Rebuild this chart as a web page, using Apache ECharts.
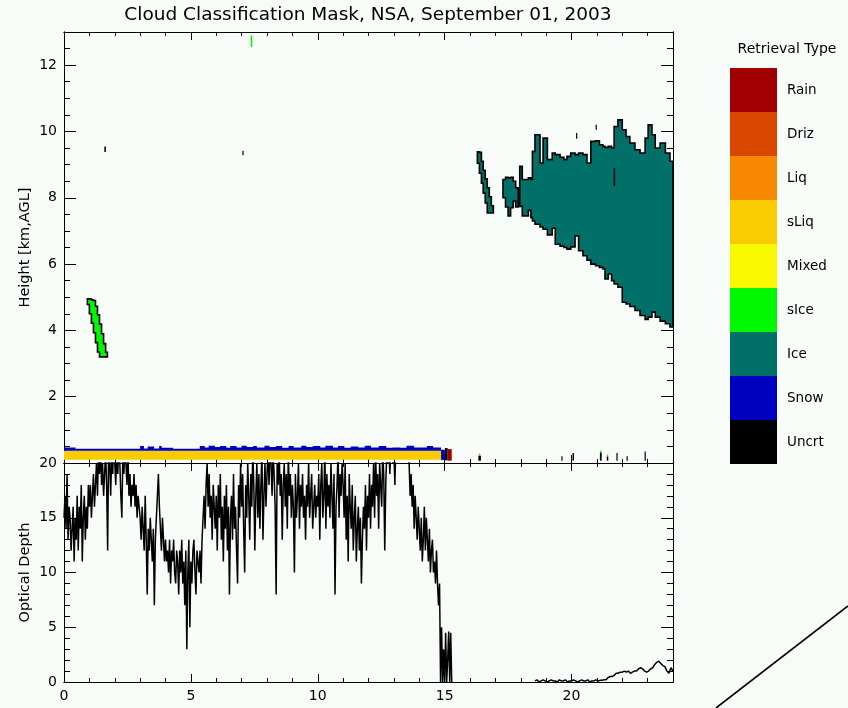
<!DOCTYPE html>
<html>
<head>
<meta charset="utf-8">
<script src="https://cdn.jsdelivr.net/npm/echarts@6/dist/echarts.min.js"></script>
<style>
  html, body { margin: 0; padding: 0; background: #f8fcf8; }
  #chart { width: 848px; height: 708px; }
</style>
</head>
<body>
<div id="chart"></div>
<script>
// ---- Retrieval classes (legend order is bottom → top) ----
const classNames = ['Uncrt', 'Snow', 'Ice', 'sIce', 'Mixed', 'sLiq', 'Liq', 'Driz', 'Rain'];

// ---- Cloud bodies: column start times [h] (last value closes the final column), top / base heights [km] ----
const sLiqHours = [0.00, 14.86];
const sLiqTop = [0.37];
const sLiqBase = [0.10];

const snowHours = [0, 0.45, 3.0, 3.15, 3.3, 3.55, 3.75, 3.85, 4.3, 5.35, 5.55, 5.7, 5.95, 6.15, 6.4, 6.55,
  6.8, 7.0, 7.2, 7.45, 7.6, 7.9, 8.1, 8.35, 8.6, 8.85, 9.05, 9.35, 9.55, 9.8, 10.1, 10.3, 10.6, 10.8,
  11.05, 11.3, 11.6, 11.85, 12.1, 12.4, 12.7, 12.95, 13.25, 13.5, 13.8, 14.05, 14.3, 14.55, 14.86];
const snowTop = [0.47, 0.43, 0.51, 0.44, 0.50, 0.44, 0.51, 0.46, 0.43, 0.51, 0.47, 0.52, 0.48, 0.51, 0.46, 0.51,
  0.47, 0.52, 0.48, 0.51, 0.47, 0.52, 0.48, 0.51, 0.46, 0.51, 0.47, 0.52, 0.48, 0.51, 0.47, 0.52, 0.47, 0.51,
  0.46, 0.50, 0.47, 0.52, 0.47, 0.51, 0.46, 0.47, 0.46, 0.52, 0.47, 0.47, 0.51, 0.47];
const snowBase = [0.37];

const sIceHours = [0.92, 1.00, 1.08, 1.16, 1.24, 1.32, 1.40, 1.48, 1.56, 1.64, 1.71];
const sIceTop = [4.95, 4.95, 4.92, 4.90, 4.73, 4.47, 4.19, 3.90, 3.60, 3.34];
const sIceBase = [4.78, 4.50, 4.22, 3.93, 3.63, 3.35, 3.20, 3.20, 3.20, 3.20];

const iceWispHours = [16.29, 16.37, 16.45, 16.52, 16.60, 16.68, 16.76, 16.84, 16.92];
const iceWispTop = [9.39, 9.37, 9.10, 8.83, 8.57, 8.30, 8.03, 7.76];
const iceWispBase = [9.04, 8.74, 8.44, 8.14, 7.84, 7.54, 7.54, 7.54];

const iceTuftHours = [17.30, 17.40, 17.50, 17.60, 17.70, 17.80, 17.90];
const iceTuftTop = [8.55, 8.62, 8.60, 8.62, 8.50, 8.30];
const iceTuftBase = [8.00, 7.72, 7.45, 7.70, 7.90, 7.72];

const iceMainHours = [17.96, 18.06, 18.30, 18.40, 18.46, 18.56, 18.76, 18.88, 19.05, 19.24, 19.36, 19.55,
  19.70, 19.82, 19.97, 20.14, 20.28, 20.45, 20.61, 20.76, 20.95, 21.10, 21.24, 21.32, 21.45, 21.58, 21.68,
  21.83, 22.00, 22.15, 22.30, 22.50, 22.70, 22.90, 23.02, 23.17, 23.30, 23.49, 23.70, 23.88, 24.00];
const iceMainTop = [8.95, 8.55, 8.60, 8.55, 9.40, 9.90, 9.05, 9.80, 9.15, 9.35, 9.30, 9.22, 9.15, 9.25,
  9.35, 9.30, 9.35, 9.30, 9.05, 9.70, 9.72, 9.60, 9.55, 9.52, 9.55, 9.50, 10.15, 10.35, 10.05, 9.85, 9.65,
  9.45, 9.35, 9.80, 10.20, 9.90, 9.50, 9.65, 9.35, 9.10];
const iceMainBase = [7.74, 7.45, 7.62, 7.40, 7.30, 7.20, 7.12, 7.05, 6.88, 7.08, 6.60, 6.54, 6.50, 6.45,
  6.52, 6.85, 6.40, 6.25, 6.12, 6.00, 5.95, 5.90, 5.85, 5.55, 5.70, 5.50, 5.40, 5.30, 4.85, 4.80, 4.72,
  4.60, 4.45, 4.33, 4.40, 4.55, 4.40, 4.28, 4.20, 4.10];

// ---- Isolated cells: start / end [h], base / top [km], class index ----
const cellStart = [1.59, 7.03, 7.36, 20.18, 20.95, 21.66, 14.86, 15.01, 15.12, 16.33, 16.34, 19.60, 20.04, 21.12, 21.13, 21.39, 21.40, 21.77, 22.17, 22.88];
const cellEnd   = [1.65, 7.07, 7.42, 20.22, 20.99, 21.72, 15.01, 15.12, 15.28, 16.43, 16.40, 19.64, 20.10, 21.19, 21.17, 21.45, 21.44, 21.80, 22.20, 22.92];
const cellBase  = [9.38, 9.28, 12.55, 9.78, 10.05, 8.35, 0.09, 0.08, 0.07, 0.07, 0.22, 0.07, 0.07, 0.07, 0.32, 0.07, 0.20, 0.07, 0.07, 0.07];
const cellTop   = [9.55, 9.42, 12.90, 9.95, 10.20, 8.90, 0.40, 0.45, 0.42, 0.22, 0.28, 0.20, 0.30, 0.32, 0.38, 0.20, 0.26, 0.30, 0.20, 0.35];
const cellClass = [0, 0, 3, 0, 0, 0, 1, 0, 8, 0, 6, 0, 0, 0, 3, 0, 6, 0, 0, 0];

// ---- Optical depth: segment A from 0.00 h every 0.04 h, segment B from 18.56 h every 0.08 h ----
const odStartA = 0.00, odStepA = 0.04;
const odSegA = [
  15, 17, 14, 19, 13, 16, 15, 12, 14, 16, 11, 15, 13, 17, 12, 16, 14, 18, 11, 15, 17, 13, 16, 14, 18,
  16, 18, 15, 17, 19, 16, 18, 20, 17, 21, 19, 22, 18, 20, 17, 19, 21, 18, 12, 22, 20, 17, 21, 19, 22,
  20, 18, 21, 19, 22, 20, 17, 15, 21, 19, 22, 20, 18, 21, 17, 19, 16, 18, 17, 19, 16, 18, 15, 17, 16,
  15, 13, 16, 14, 12, 17, 13, 8, 14, 12, 15, 13, 11, 14, 7, 13, 15, 17, 19, 16, 14, 12, 15, 13, 11,
  13, 11, 12, 10, 13, 9, 12, 11, 13, 10, 9, 12, 11, 8, 12, 10, 13, 9, 11, 7, 12, 3, 10, 13, 5,
  11, 9, 12, 13, 10, 8, 12, 11, 10, 12, 9, 13, 15, 17, 14, 18, 20, 16, 19, 15, 17, 13, 18, 16, 14,
  17, 12, 18, 15, 19, 13, 16, 11, 17, 14, 18, 12, 16, 8, 15, 17, 13, 19, 14, 16, 12, 9, 18, 15, 20,
  16, 19, 14, 10, 18, 15, 20, 17, 13, 19, 16, 21, 18, 12, 17, 20, 15, 19, 14, 18, 21, 13, 17, 20, 16,
  19, 21, 18, 22, 20, 17, 21, 19, 16, 8, 20, 18, 21, 17, 19, 13, 18, 20, 16, 19, 14, 21, 17, 19, 15,
  18, 16, 10, 19, 15, 17, 20, 14, 18, 16, 19, 15, 17, 13, 18, 16, 20, 15, 17, 19, 14, 16, 18, 15, 17,
  16, 19, 13, 18, 20, 15, 17, 21, 14, 19, 16, 18, 15, 20, 17, 14, 19, 8, 16, 18, 21, 15, 19, 17, 20,
  18, 15, 20, 13, 17, 11, 19, 16, 14, 18, 12, 15, 17, 11, 14, 16, 12, 15, 9, 13, 16, 14, 18, 12, 17,
  15, 19, 14, 18, 16, 20, 15, 21, 17, 19, 14, 20, 18, 16, 21, 19, 12, 18, 21, 20, 22, 19, 21, 22, 20,
  21, 18, 22, 21, 23, 22, 24, 22, 23, 21, 22, 23, 22, 21, 22, 20, 17, 19, 16, 18, 14, 17, 15, 13, 16,
  14, 12, 15, 11, 13, 16, 12, 15, 13, 11, 14, 10, 12, 13, 10, 11, 9, 12, 9, 7, 9, 0, 5, 0, 3,
  0, 4.5, 0, 2, 4.6, 0, 4.5, 0
];
const odStartB = 18.56, odStepB = 0.08;
const odSegB = [
  0.1, 0.2, 0.0, 0.1, 0.2, 0.1, 0.0, 0.1, 0.2, 0.1, 0.1, 0.0, 0.2, 0.1, 0.1, 0.2,
  0.0, 0.1, 0.1, 0.2, 0.1, 0.0, 0.1, 0.2, 0.1, 0.1, 0.2, 0.0, 0.1, 0.1, 0.2, 0.1,
  0.15, 0.15, 0.2, 0.2, 0.4, 0.5, 0.5, 0.6, 0.8, 0.8, 0.9, 0.9, 1.0, 0.9, 1.0, 0.8, 0.9, 1.0, 1.0,
  1.2, 1.3, 1.2, 1.0, 0.9, 1.0, 1.2, 1.3, 1.6, 1.8, 1.9, 1.7, 1.5, 1.4, 1.0, 0.8, 1.3, 1.0
];

// ---- Styling ----
const FONT = 'DejaVu Sans';
const INK = '#000000';
const classColors = ['#000000', '#0000c0', '#007068', '#00f800', '#f8f800', '#f8cc00', '#f88800', '#d84800', '#a00000'];
const OUTLINED = { 2: true, 3: true };

const bodies = [
  { cls: 5, hours: sLiqHours, top: sLiqTop, base: sLiqBase },
  { cls: 1, hours: snowHours, top: snowTop, base: snowBase },
  { cls: 3, hours: sIceHours, top: sIceTop, base: sIceBase },
  { cls: 2, hours: iceWispHours, top: iceWispTop, base: iceWispBase },
  { cls: 2, hours: iceTuftHours, top: iceTuftTop, base: iceTuftBase },
  { cls: 2, hours: iceMainHours, top: iceMainTop, base: iceMainBase }
];

function outlinePoints(api, b) {
  const pts = [];
  const n = b.top.length;
  const baseAt = i => (b.base.length === 1 ? b.base[0] : b.base[i]);
  for (let i = 0; i < n; i++) {
    pts.push(api.coord([b.hours[i], b.top[i]]));
    pts.push(api.coord([b.hours[i + 1], b.top[i]]));
  }
  for (let i = n - 1; i >= 0; i--) {
    pts.push(api.coord([b.hours[i + 1], baseAt(i)]));
    pts.push(api.coord([b.hours[i], baseAt(i)]));
  }
  return pts;
}

const bodyData = bodies.map((b, i) => [b.cls, i]);
const cellData = cellClass.map((c, i) => [c, cellStart[i], cellEnd[i], cellBase[i], cellTop[i]]);

const odData = [];
odSegA.forEach((v, i) => odData.push([+(odStartA + i * odStepA).toFixed(2), v]));
odData.push([16.9, '-']);
odSegB.forEach((v, i) => odData.push([+(odStartB + i * odStepB).toFixed(2), v]));

// ---- Axes: IDL-style box with inward ticks on all four sides ----
function axis(gridIndex, position, min, max, interval, tickLen, extra) {
  return Object.assign({
    type: 'value', gridIndex, position, min, max, interval,
    axisLine: { show: true, onZero: false, lineStyle: { color: INK, width: 1 } },
    axisTick: { show: true, inside: true, length: tickLen, lineStyle: { color: INK, width: 1 } },
    axisLabel: { show: false },
    splitLine: { show: false },
    silent: true
  }, extra || {});
}
const tickLabel = (fmt) => ({
  show: true, color: INK, fontFamily: FONT, fontSize: 14, margin: 7, formatter: fmt
});
const axisName = (text, gap) => ({
  name: text, nameLocation: 'middle', nameGap: gap, nameRotate: 90,
  nameTextStyle: { color: INK, fontFamily: FONT, fontSize: 14.5 }
});

const xAxes = [
  axis(0, 'bottom', 0, 24, 1, 4),
  axis(0, 'bottom', 0, 24, 5, 8),
  axis(0, 'top', 0, 24, 1, 4),
  axis(0, 'top', 0, 24, 5, 8),
  axis(1, 'bottom', 0, 24, 1, 4, { axisLabel: tickLabel(v => (v % 5 === 0 ? String(v) : '')) }),
  axis(1, 'bottom', 0, 24, 5, 8),
  axis(1, 'top', 0, 24, 1, 4),
  axis(1, 'top', 0, 24, 5, 8)
];
const yAxes = [
  axis(0, 'left', 0, 13, 0.5, 6, { axisLabel: tickLabel(v => (v % 2 === 0 && v > 0 ? String(v) : '')) }),
  axis(0, 'left', 0, 13, 2, 12, axisName('Height [km,AGL]', 31)),
  axis(0, 'right', 0, 13, 0.5, 6),
  axis(0, 'right', 0, 13, 2, 12),
  axis(1, 'left', 0, 20, 1, 6, { axisLabel: tickLabel(v => (v % 5 === 0 ? String(v) : '')) }),
  axis(1, 'left', 0, 20, 5, 12, axisName('Optical Depth', 31)),
  axis(1, 'right', 0, 20, 1, 6),
  axis(1, 'right', 0, 20, 5, 12)
];

const chart = echarts.init(document.getElementById('chart'), null, { renderer: 'canvas' });
chart.setOption({
  animation: false,
  backgroundColor: '#f8fcf8',
  textStyle: { fontFamily: FONT },
  title: [
    {
      text: 'Cloud Classification Mask, NSA, September 01, 2003',
      left: 368, top: 6, textAlign: 'center', padding: 0,
      textStyle: { color: INK, fontFamily: FONT, fontSize: 18.5, fontWeight: 'normal' }
    },
    {
      text: 'Retrieval Type',
      left: 787, top: 42, textAlign: 'center', padding: 0,
      textStyle: { color: INK, fontFamily: FONT, fontSize: 14, fontWeight: 'normal' }
    }
  ],
  grid: [
    { left: 64, top: 32, width: 609, height: 431 },
    { left: 64, top: 463, width: 609, height: 219 }
  ],
  xAxis: xAxes,
  yAxis: yAxes,
  visualMap: {
    type: 'piecewise',
    seriesIndex: [0, 1],
    dimension: 0,
    orient: 'vertical',
    align: 'left',
    left: 730, top: 68, padding: 0,
    itemWidth: 47, itemHeight: 44, itemGap: 0, itemSymbol: 'rect',
    textGap: 10,
    selectedMode: false, hoverLink: false,
    textStyle: { color: INK, fontFamily: FONT, fontSize: 13.5 },
    pieces: classNames.map((name, i) => ({ value: i, label: name, color: classColors[i] }))
  },
  series: [
    {
      type: 'custom',
      name: 'Cloud bodies',
      coordinateSystem: 'cartesian2d',
      xAxisIndex: 0, yAxisIndex: 0,
      silent: true,
      data: bodyData,
      renderItem: function (params, api) {
        const b = bodies[api.value(1)];
        const outlined = OUTLINED[api.value(0)];
        return {
          type: 'polygon',
          shape: { points: outlinePoints(api, b) },
          style: {
            fill: api.visual('color'),
            stroke: outlined ? INK : null,
            lineWidth: outlined ? 1.6 : 0
          }
        };
      }
    },
    {
      type: 'custom',
      name: 'Cells',
      coordinateSystem: 'cartesian2d',
      xAxisIndex: 0, yAxisIndex: 0,
      silent: true,
      data: cellData,
      renderItem: function (params, api) {
        const p0 = api.coord([api.value(1), api.value(4)]);
        const p1 = api.coord([api.value(2), api.value(3)]);
        return {
          type: 'rect',
          shape: { x: p0[0], y: p0[1], width: Math.max(1.2, p1[0] - p0[0]), height: p1[1] - p0[1] },
          style: { fill: api.visual('color') }
        };
      }
    },
    {
      type: 'line',
      name: 'Optical Depth',
      xAxisIndex: 4, yAxisIndex: 4,
      data: odData,
      showSymbol: false,
      connectNulls: false,
      clip: true,
      silent: true,
      lineStyle: { color: INK, width: 1.5 }
    }
  ],
  graphic: [
    {
      type: 'line', silent: true,
      shape: { x1: 848, y1: 606, x2: 716, y2: 708 },
      style: { stroke: INK, lineWidth: 1.6 }
    }
  ]
});
</script>
</body>
</html>
